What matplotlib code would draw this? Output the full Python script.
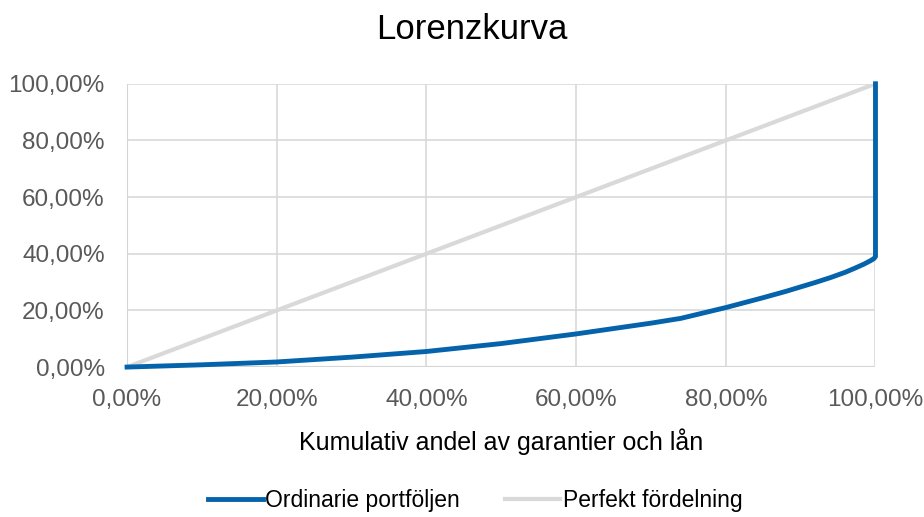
import matplotlib.pyplot as plt
from matplotlib.ticker import FuncFormatter

plt.rcParams['font.family'] = ['Liberation Sans', 'DejaVu Sans']

# cumulative share of guarantees/loans (x) vs cumulative share of risk (y), in %
x_ord = [0, 5, 10, 20, 30, 40, 50, 60, 70, 74, 80, 85, 88, 90, 92, 94, 96, 97.5, 98.5, 99.3, 99.8, 100, 100]
y_ord = [0, 0.4, 0.8, 1.8, 3.5, 5.5, 8.3, 11.7, 15.5, 17.2, 21.0, 24.5, 26.7, 28.3, 29.9, 31.6, 33.5, 35.2, 36.4, 37.5, 38.3, 39.0, 100]
x_perf = [0, 100]
y_perf = [0, 100]

ticks = [0, 20, 40, 60, 80, 100]

fig = plt.figure(figsize=(9.24, 5.17), dpi=100)
ax = fig.add_axes([0.1375, 0.29, 0.81, 0.548])

ax.plot(x_ord, y_ord, color='#0563AB', lw=3.5, label='Ordinarie portföljen', zorder=3,
        solid_joinstyle='round', clip_on=False)
ax.plot(x_perf, y_perf, color='#D9D9D9', lw=3, label='Perfekt fördelning', zorder=2)

ax.set_xlim(0, 100)
ax.set_ylim(0, 100)
ax.set_xticks(ticks)
ax.set_yticks(ticks)
fmt = FuncFormatter(lambda v, p: ('%.2f%%' % v).replace('.', ','))
ax.xaxis.set_major_formatter(fmt)
ax.yaxis.set_major_formatter(fmt)
ax.tick_params(length=0, labelsize=17.5, colors='#595959')
ax.tick_params(axis='y', pad=16)
ax.tick_params(axis='x', pad=16)
ax.grid(color='#D9D9D9', lw=1.2)
for s in ax.spines.values():
    s.set_visible(False)
ax.axhline(0, color='#BFBFBF', lw=1.5, zorder=1)
ax.axvline(0, color='#BFBFBF', lw=1.5, zorder=1)

fig.suptitle('Lorenzkurva', fontsize=25, color='#000000', x=0.511, y=0.975)
ax.set_xlabel('Kumulativ andel av garantier och lån', fontsize=18, color='#000000', labelpad=12)

fig.legend(loc='lower center', ncol=2, frameon=False, fontsize=16.5,
           bbox_to_anchor=(0.514, -0.03), handlelength=2.4, columnspacing=2.0, handletextpad=0.1)

fig.savefig('out.png', dpi=100)
